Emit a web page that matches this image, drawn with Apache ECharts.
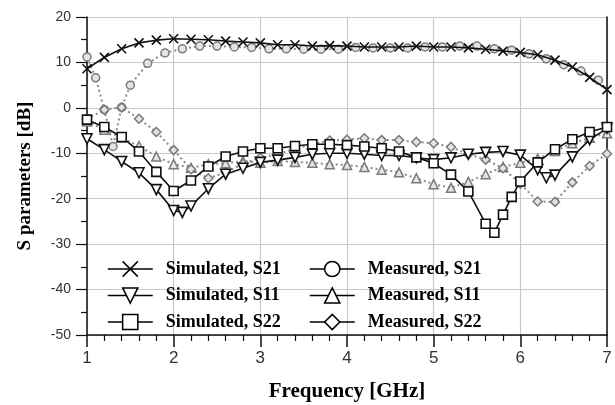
<!DOCTYPE html>
<html>
<head>
<meta charset="utf-8">
<script src="https://cdn.jsdelivr.net/npm/echarts@6/dist/echarts.min.js"></script>
<style>
  html, body { margin: 0; padding: 0; background: #fff; }
  #chart { width: 615px; height: 405px; }
</style>
</head>
<body>
<div id="chart"></div>
<script>
// 시뮬레이션 주파수 (GHz)
const simFreq = [1.0, 1.2, 1.4, 1.6, 1.8, 2.0, 2.2, 2.4, 2.6, 2.8, 3.0, 3.2, 3.4, 3.6, 3.8, 4.0,
                 4.2, 4.4, 4.6, 4.8, 5.0, 5.2, 5.4, 5.6, 5.8, 6.0, 6.2, 6.4, 6.6, 6.8, 7.0];
const simS21 = [8.6, 11.1, 13.0, 14.3, 14.9, 15.2, 15.1, 15.0, 14.7, 14.5, 14.3, 13.9, 13.9, 13.6, 13.7, 13.6,
                13.4, 13.4, 13.4, 13.6, 13.4, 13.4, 13.2, 12.9, 12.5, 12.2, 11.7, 10.5, 9.0, 6.7, 4.0];

const simS11Freq = [1.0, 1.2, 1.4, 1.6, 1.8, 2.0, 2.1, 2.2, 2.4, 2.6, 2.8, 3.0, 3.2, 3.4, 3.6, 3.8, 4.0,
                    4.2, 4.4, 4.6, 4.8, 5.0, 5.2, 5.4, 5.6, 5.8, 6.0, 6.2, 6.3, 6.4, 6.6, 6.8, 7.0];
const simS11 = [-6.8, -9.2, -11.8, -14.3, -18.0, -22.6, -23.0, -21.6, -17.8, -14.6, -13.3, -12.0, -11.5, -10.9, -10.2, -10.0, -10.0,
                -10.2, -10.5, -10.5, -11.0, -11.4, -11.0, -10.2, -9.8, -9.6, -10.4, -13.6, -15.4, -14.8, -10.8, -7.0, -4.5];

const simS22Freq = [1.0, 1.2, 1.4, 1.6, 1.8, 2.0, 2.2, 2.4, 2.6, 2.8, 3.0, 3.2, 3.4, 3.6, 3.8, 4.0,
                    4.2, 4.4, 4.6, 4.8, 5.0, 5.2, 5.4, 5.6, 5.7, 5.8, 5.9, 6.0, 6.2, 6.4, 6.6, 6.8, 7.0];
const simS22 = [-2.6, -4.2, -6.4, -9.6, -14.1, -18.3, -16.0, -12.9, -10.7, -9.6, -8.9, -8.9, -8.4, -8.0, -8.0, -8.2,
                -8.5, -8.9, -9.6, -10.9, -12.2, -14.7, -18.4, -25.5, -27.5, -23.5, -19.6, -16.2, -12.0, -9.1, -6.9, -5.3, -4.2];

// 측정 데이터
const measS21Freq = [1.0, 1.1, 1.2, 1.3, 1.4, 1.5, 1.7, 1.9, 2.1, 2.3, 2.5, 2.7, 2.9, 3.1, 3.3, 3.5, 3.7, 3.9,
                     4.1, 4.3, 4.5, 4.7, 4.9, 5.1, 5.3, 5.5, 5.7, 5.9, 6.1, 6.3, 6.5, 6.7, 6.9];
const measS21 = [11.2, 6.6, -0.4, -8.5, 0.1, 5.0, 9.8, 12.1, 13.0, 13.6, 13.6, 13.4, 13.3, 13.0, 13.0, 12.9, 12.9, 12.9,
                 13.3, 13.2, 13.2, 13.2, 13.4, 13.4, 13.6, 13.6, 13.0, 12.7, 11.9, 10.8, 9.5, 8.1, 6.1];

const measFreq = simFreq;
const measS11 = [-3.0, -4.8, -6.6, -8.4, -10.7, -12.4, -13.2, -12.4, -12.2, -11.7, -12.1, -11.7, -11.9, -12.1, -12.4, -12.6,
                 -13.0, -13.6, -14.2, -15.5, -16.8, -17.6, -16.3, -14.6, -13.0, -12.1, -11.2, -9.5, -7.8, -6.6, -5.6];
const measS22 = [-2.5, -0.4, 0.1, -2.4, -5.3, -9.3, -13.5, -15.5, -14.2, -12.3, -11.0, -10.2, -9.0, -8.0, -7.2, -7.0,
                 -6.7, -7.1, -7.1, -7.5, -7.8, -8.6, -10.2, -11.4, -13.3, -16.7, -20.6, -20.7, -16.4, -12.8, -10.1];

const pairs = (xs, ys) => xs.map((x, i) => [x, ys[i]]);

const serif = 'Liberation Serif';
const sans = 'Liberation Sans';

const simStyle = (name, xs, ys, symbol, size) => ({
    name: name,
    type: 'line',
    data: pairs(xs, ys),
    symbol: symbol,
    symbolSize: size,
    z: 3,
    lineStyle: { color: '#111', width: 1.6, type: 'solid' },
    itemStyle: { color: '#fff', borderColor: '#111', borderWidth: 1.6 }
});

const measStyle = (name, xs, ys, symbol, size) => ({
    name: name,
    type: 'line',
    data: pairs(xs, ys),
    symbol: symbol,
    symbolSize: size,
    z: 2,
    lineStyle: { color: '#8a8a8a', width: 2, type: [2, 3] },
    itemStyle: { color: '#e4e4e4', borderColor: '#7a7a7a', borderWidth: 1.5 }
});

const crossSymbol = 'path://M0,0L10,10M10,0L0,10';
const downTriangle = 'path://M0,0L10,0L5,9Z';

const legendBase = {
    orient: 'vertical',
    itemWidth: 45,
    itemHeight: 19,
    itemGap: 8.5,
    top: 255,
    textStyle: { fontFamily: serif, fontWeight: 'bold', fontSize: 18, color: '#000', padding: [0, 0, 0, 8] },
    lineStyle: { color: '#000', width: 1.5, type: 'solid' },
    itemStyle: { color: '#fff', borderColor: '#000', borderWidth: 1.5 }
};

const chart = echarts.init(document.getElementById('chart'));

chart.setOption({
    animation: false,
    backgroundColor: '#fff',
    grid: { left: 87, right: 8, top: 17, bottom: 70, outerBoundsMode: 'none' },
    legend: [
        Object.assign({ left: 102, data: ['Simulated, S21', 'Simulated, S11', 'Simulated, S22'] }, legendBase),
        Object.assign({ left: 304, data: ['Measured, S21', 'Measured, S11', 'Measured, S22'] }, legendBase)
    ],
    xAxis: {
        type: 'value',
        min: 1, max: 7, interval: 1,
        name: 'Frequency [GHz]',
        nameLocation: 'middle',
        nameGap: 46,
        nameTextStyle: { fontFamily: serif, fontWeight: 'bold', fontSize: 21, color: '#000' },
        axisLine: { onZero: false, lineStyle: { color: '#111', width: 1.5 } },
        axisTick: { length: 12, lineStyle: { color: '#111', width: 1.5 } },
        minorTick: { show: true, splitNumber: 5, length: 6, lineStyle: { color: '#111', width: 1.2 } },
        axisLabel: { fontFamily: sans, fontSize: 17, color: '#333', margin: 15 },
        splitLine: { show: true, lineStyle: { color: '#c8c8c8', width: 1.2 } }
    },
    yAxis: [
        {
            type: 'value',
            min: -50, max: 20, interval: 10,
            name: 'S parameters [dB]',
            nameLocation: 'middle',
            nameGap: 52,
            nameTextStyle: { fontFamily: serif, fontWeight: 'bold', fontSize: 19, color: '#000' },
            axisLine: { show: true, onZero: false, lineStyle: { color: '#111', width: 1.5 } },
            axisTick: { show: true, length: 11, lineStyle: { color: '#111', width: 1.2 } },
            minorTick: { show: true, splitNumber: 2, length: 6, lineStyle: { color: '#111', width: 1.2 } },
            axisLabel: { fontFamily: sans, fontSize: 14, color: '#333', margin: 16 },
            splitLine: { show: true, lineStyle: { color: '#c8c8c8', width: 1.2 } }
        },
        {
            // 오른쪽 테두리
            type: 'value',
            position: 'right',
            min: -50, max: 20, interval: 10,
            axisLine: { show: true, onZero: false, lineStyle: { color: '#111', width: 1.5 } },
            axisTick: { show: false },
            axisLabel: { show: false },
            splitLine: { show: false }
        }
    ],
    series: [
        measStyle('Measured, S21', measS21Freq, measS21, 'circle', 8),
        measStyle('Measured, S11', measFreq, measS11, 'triangle', 9),
        measStyle('Measured, S22', measFreq, measS22, 'diamond', 9),
        simStyle('Simulated, S21', simFreq, simS21, crossSymbol, 9),
        simStyle('Simulated, S11', simS11Freq, simS11, downTriangle, 10),
        simStyle('Simulated, S22', simS22Freq, simS22, 'rect', 9)
    ]
});
</script>
</body>
</html>
